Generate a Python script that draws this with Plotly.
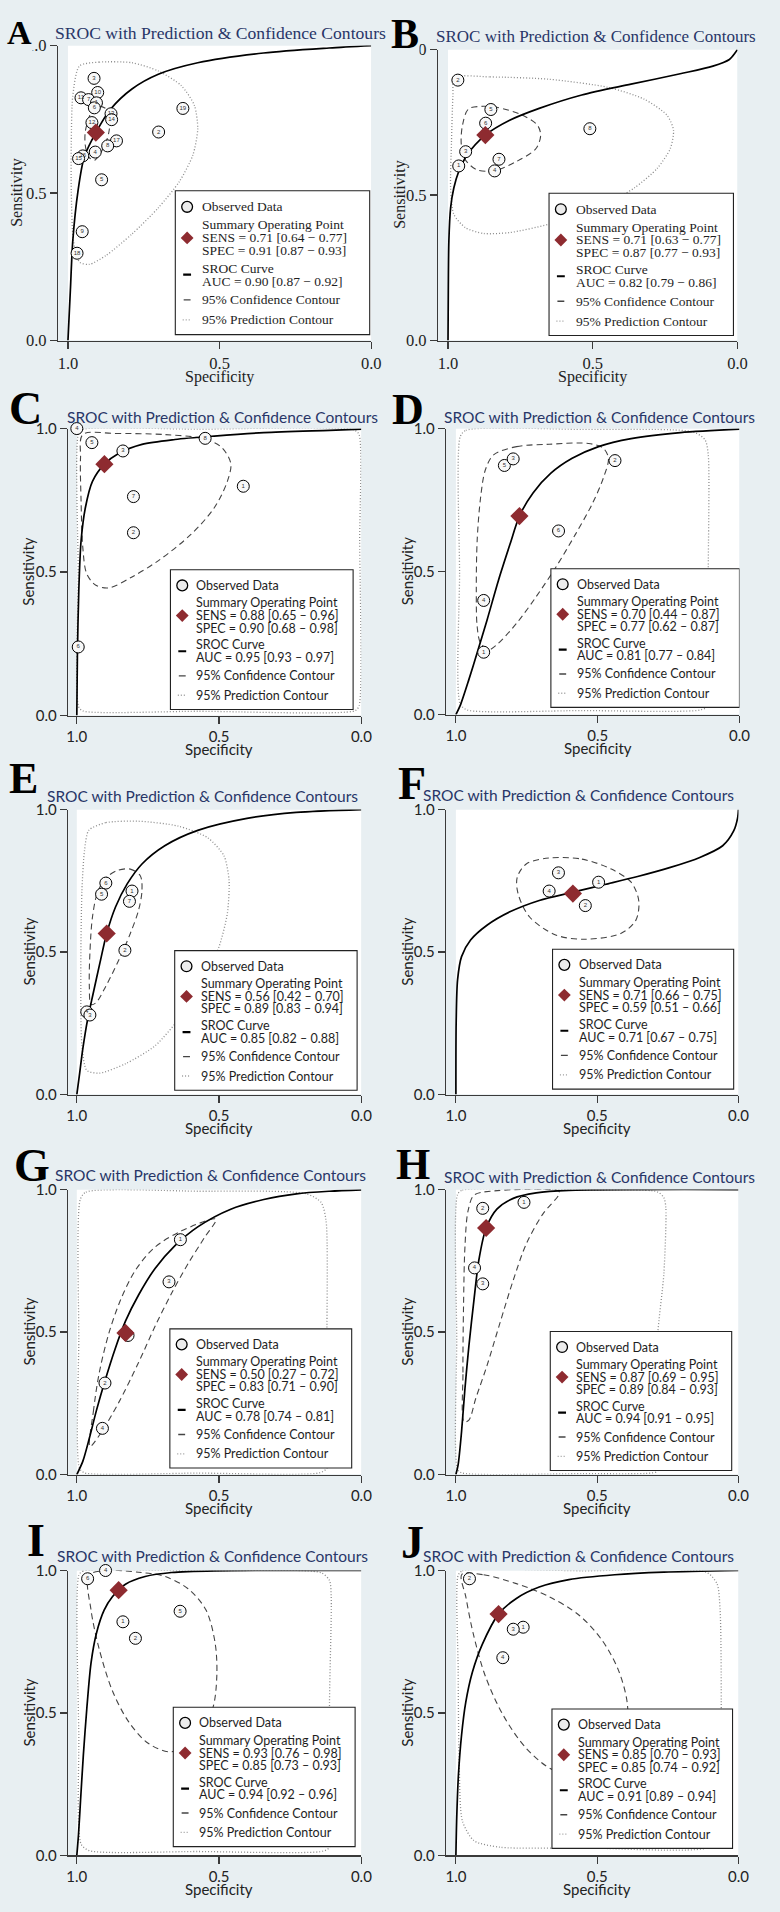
import plotly.graph_objects as go

W, H = 780, 1912
BG = '#e8eff2'
NAVY = '#283668'
RED = '#8e2b30'
AX = '#3a3a3a'
SERIF = 'Liberation Serif, Times New Roman, serif'
SANS = 'Lato, Open Sans, sans-serif'

# ---------------- data (specificity, sensitivity) ----------------
A_study_id = ['16', '3', '10', '11', '7', '1', '6', '13', '14', '12', '19', '2', '17', '8', '4', '15', '5', '9', '18']
A_study_spec = [0.951, 0.914, 0.902, 0.957, 0.932, 0.906, 0.913, 0.858, 0.856, 0.921, 0.621, 0.701, 0.840, 0.869, 0.910, 0.965, 0.889, 0.953, 0.970]
A_study_sens = [0.626, 0.889, 0.841, 0.823, 0.817, 0.806, 0.789, 0.769, 0.749, 0.739, 0.787, 0.707, 0.677, 0.660, 0.639, 0.617, 0.545, 0.369, 0.296]
A_summary = [0.908, 0.705]
A_sroc_spec = [1.0, 0.992, 0.984, 0.967, 0.946, 0.908, 0.859, 0.789, 0.702, 0.572, 0.355, 0.139, 0.0]
A_sroc_sens = [0.0, 0.171, 0.339, 0.506, 0.623, 0.705, 0.785, 0.853, 0.903, 0.942, 0.975, 0.992, 1.0]
A_conf_spec = [0.897, 0.873, 0.862, 0.865, 0.878, 0.897, 0.913, 0.932, 0.943, 0.943, 0.932, 0.917, 0.897]
A_conf_sens = [0.794, 0.785, 0.752, 0.707, 0.663, 0.629, 0.611, 0.623, 0.663, 0.707, 0.752, 0.785, 0.794]
A_pred_spec = [0.962, 0.897, 0.789, 0.702, 0.626, 0.583, 0.572, 0.588, 0.632, 0.702, 0.789, 0.875, 0.930, 0.962, 0.982, 0.989, 0.989, 0.984, 0.962]
A_pred_sens = [0.931, 0.944, 0.942, 0.914, 0.864, 0.797, 0.718, 0.629, 0.540, 0.450, 0.361, 0.288, 0.258, 0.266, 0.339, 0.506, 0.674, 0.830, 0.931]
A_stats = ['SENS = 0.71 [0.64 − 0.77]', 'SPEC = 0.91 [0.87 − 0.93]', 'AUC = 0.90 [0.87 − 0.92]']

B_study_id = ['2', '5', '6', '8', '3', '1', '7', '4']
B_study_spec = [0.966, 0.852, 0.870, 0.510, 0.939, 0.963, 0.824, 0.839]
B_study_sens = [0.895, 0.794, 0.747, 0.728, 0.649, 0.600, 0.623, 0.583]
B_summary = [0.871, 0.706]
B_sroc_spec = [1.0, 0.999, 0.997, 0.991, 0.980, 0.963, 0.934, 0.871, 0.787, 0.685, 0.538, 0.368, 0.198, 0.085, 0.028, 0.008, 0.0]
B_sroc_sens = [0.0, 0.173, 0.343, 0.456, 0.524, 0.581, 0.638, 0.706, 0.757, 0.798, 0.844, 0.881, 0.917, 0.943, 0.966, 0.989, 1.0]
B_conf_spec = [0.929, 0.878, 0.832, 0.742, 0.691, 0.680, 0.696, 0.764, 0.844, 0.900, 0.940, 0.954, 0.950, 0.929]
B_conf_sens = [0.796, 0.805, 0.802, 0.774, 0.740, 0.706, 0.660, 0.615, 0.583, 0.587, 0.621, 0.672, 0.740, 0.796]
B_pred_spec = [0.977, 0.855, 0.651, 0.447, 0.323, 0.243, 0.221, 0.232, 0.277, 0.357, 0.481, 0.651, 0.787, 0.878, 0.940, 0.980, 0.991, 0.988, 0.983, 0.977]
B_pred_sens = [0.904, 0.906, 0.898, 0.870, 0.830, 0.774, 0.723, 0.660, 0.592, 0.524, 0.456, 0.400, 0.371, 0.368, 0.388, 0.434, 0.524, 0.683, 0.841, 0.904]
B_stats = ['SENS = 0.71 [0.63 − 0.77]', 'SPEC = 0.87 [0.77 − 0.93]', 'AUC = 0.82 [0.79 − 0.86]']

C_study_id = ['4', '5', '3', '8', '1', '7', '2', '6']
C_study_spec = [1.0, 0.947, 0.838, 0.549, 0.415, 0.801, 0.801, 0.995]
C_study_sens = [1.0, 0.951, 0.922, 0.966, 0.799, 0.763, 0.637, 0.239]
C_summary = [0.903, 0.876]
C_sroc_spec = [1.0, 0.998, 0.993, 0.985, 0.970, 0.945, 0.903, 0.852, 0.771, 0.655, 0.517, 0.343, 0.112, 0.0]
C_sroc_sens = [0.0, 0.207, 0.437, 0.609, 0.724, 0.816, 0.876, 0.914, 0.945, 0.962, 0.974, 0.986, 0.994, 0.998]
C_conf_spec = [0.979, 0.864, 0.690, 0.563, 0.494, 0.459, 0.471, 0.517, 0.598, 0.713, 0.806, 0.887, 0.933, 0.965, 0.979, 0.985, 0.987, 0.979]
C_conf_sens = [0.979, 0.983, 0.979, 0.966, 0.937, 0.879, 0.816, 0.724, 0.632, 0.540, 0.483, 0.445, 0.454, 0.494, 0.586, 0.747, 0.897, 0.979]
C_pred_spec = [0.994, 0.979, 0.575, 0.025, 0.008, 0.006, 0.008, 0.022, 0.575, 0.979, 0.994, 0.995, 0.994]
C_pred_sens = [0.983, 0.997, 0.998, 0.995, 0.979, 0.609, 0.034, 0.017, 0.015, 0.016, 0.031, 0.494, 0.983]
C_stats = ['SENS = 0.88 [0.65 – 0.96]', 'SPEC = 0.90 [0.68 – 0.98]', 'AUC = 0.95 [0.93 – 0.97]']

D_study_id = ['5', '3', '2', '6', '4', '1']
D_study_spec = [0.829, 0.798, 0.439, 0.638, 0.902, 0.902]
D_study_sens = [0.871, 0.894, 0.888, 0.642, 0.399, 0.218]
D_summary = [0.776, 0.694]
D_sroc_spec = [1.0, 0.985, 0.954, 0.925, 0.890, 0.850, 0.809, 0.776, 0.728, 0.665, 0.590, 0.497, 0.382, 0.208, 0.0]
D_sroc_sens = [0.0, 0.031, 0.123, 0.216, 0.331, 0.469, 0.596, 0.694, 0.775, 0.844, 0.896, 0.937, 0.965, 0.986, 0.998]
D_conf_spec = [0.867, 0.786, 0.671, 0.532, 0.480, 0.462, 0.480, 0.520, 0.578, 0.647, 0.717, 0.786, 0.855, 0.884, 0.913, 0.925, 0.928, 0.925, 0.913, 0.896, 0.867]
D_conf_sens = [0.908, 0.937, 0.945, 0.948, 0.931, 0.896, 0.827, 0.735, 0.631, 0.516, 0.412, 0.319, 0.245, 0.227, 0.250, 0.308, 0.435, 0.608, 0.758, 0.856, 0.908]
D_pred_spec = [0.985, 0.965, 0.555, 0.162, 0.121, 0.110, 0.110, 0.110, 0.139, 0.555, 0.960, 0.985, 0.987, 0.985]
D_pred_sens = [0.971, 0.994, 0.997, 0.988, 0.960, 0.908, 0.493, 0.031, 0.016, 0.014, 0.016, 0.037, 0.493, 0.971]
D_stats = ['SENS = 0.70 [0.44 – 0.87]', 'SPEC = 0.77 [0.62 – 0.87]', 'AUC = 0.81 [0.77 – 0.84]']

E_study_id = ['6', '5', '1', '7', '2', '4', '3']
E_study_spec = [0.898, 0.913, 0.806, 0.815, 0.831, 0.965, 0.954]
E_study_sens = [0.742, 0.703, 0.714, 0.678, 0.506, 0.290, 0.279]
E_summary = [0.895, 0.565]
E_sroc_spec = [1.0, 0.991, 0.979, 0.962, 0.942, 0.919, 0.895, 0.864, 0.823, 0.771, 0.691, 0.575, 0.402, 0.229, 0.0]
E_sroc_sens = [0.0, 0.067, 0.160, 0.264, 0.357, 0.461, 0.565, 0.658, 0.739, 0.809, 0.873, 0.927, 0.969, 0.990, 1.0]
E_conf_spec = [0.858, 0.812, 0.777, 0.771, 0.783, 0.812, 0.852, 0.898, 0.933, 0.950, 0.956, 0.954, 0.945, 0.927, 0.898, 0.858]
E_conf_sens = [0.786, 0.791, 0.768, 0.716, 0.647, 0.565, 0.473, 0.380, 0.322, 0.316, 0.380, 0.496, 0.623, 0.710, 0.760, 0.786]
E_pred_spec = [0.958, 0.898, 0.783, 0.644, 0.540, 0.483, 0.465, 0.471, 0.500, 0.552, 0.633, 0.725, 0.829, 0.921, 0.965, 0.982, 0.986, 0.982, 0.973, 0.958]
E_pred_sens = [0.927, 0.954, 0.959, 0.942, 0.901, 0.838, 0.751, 0.635, 0.519, 0.403, 0.276, 0.171, 0.108, 0.075, 0.085, 0.171, 0.426, 0.716, 0.855, 0.927]
E_stats = ['SENS = 0.56 [0.42 – 0.70]', 'SPEC = 0.89 [0.83 – 0.94]', 'AUC = 0.85 [0.82 – 0.88]']

F_study_id = ['3', '1', '4', '2']
F_study_spec = [0.637, 0.495, 0.670, 0.542]
F_study_sens = [0.778, 0.745, 0.714, 0.663]
F_summary = [0.586, 0.705]
F_sroc_spec = [1.0, 0.999, 0.994, 0.980, 0.948, 0.890, 0.809, 0.705, 0.586, 0.473, 0.357, 0.241, 0.137, 0.056, 0.017, 0.003, 0.0]
F_sroc_sens = [0.0, 0.253, 0.403, 0.484, 0.542, 0.594, 0.641, 0.681, 0.710, 0.737, 0.765, 0.797, 0.832, 0.873, 0.925, 0.971, 1.0]
F_conf_spec = [0.670, 0.554, 0.450, 0.380, 0.353, 0.363, 0.415, 0.542, 0.647, 0.739, 0.780, 0.783, 0.751, 0.670]
F_conf_sens = [0.830, 0.826, 0.791, 0.745, 0.681, 0.612, 0.566, 0.545, 0.560, 0.623, 0.705, 0.762, 0.809, 0.830]
F_pred_spec = []
F_pred_sens = []
F_stats = ['SENS = 0.71 [0.66 – 0.75]', 'SPEC = 0.59 [0.51 – 0.66]', 'AUC = 0.71 [0.67 – 0.75]']

G_study_id = ['1', '3', '5', '2', '4']
G_study_spec = [0.636, 0.676, 0.820, 0.901, 0.910]
G_study_sens = [0.824, 0.676, 0.488, 0.321, 0.162]
G_summary = [0.829, 0.497]
G_sroc_spec = [1.0, 0.979, 0.956, 0.931, 0.901, 0.866, 0.829, 0.783, 0.725, 0.655, 0.575, 0.459, 0.343, 0.228, 0.112, 0.0]
G_sroc_sens = [0.0, 0.046, 0.127, 0.225, 0.329, 0.439, 0.538, 0.630, 0.723, 0.803, 0.869, 0.931, 0.965, 0.985, 0.994, 0.999]
G_conf_spec = [0.954, 0.942, 0.921, 0.887, 0.846, 0.794, 0.725, 0.632, 0.511, 0.551, 0.609, 0.667, 0.725, 0.783, 0.852, 0.916, 0.954]
G_conf_sens = [0.098, 0.220, 0.358, 0.497, 0.613, 0.717, 0.798, 0.855, 0.896, 0.832, 0.740, 0.636, 0.520, 0.393, 0.254, 0.145, 0.098]
G_pred_spec = [0.988, 0.968, 0.575, 0.193, 0.141, 0.124, 0.121, 0.121, 0.147, 0.575, 0.973, 0.991, 0.993, 0.988]
G_pred_sens = [0.965, 0.991, 0.994, 0.985, 0.954, 0.890, 0.474, 0.023, 0.006, 0.005, 0.006, 0.023, 0.474, 0.965]
G_stats = ['SENS = 0.50 [0.27 – 0.72]', 'SPEC = 0.83 [0.71 – 0.90]', 'AUC = 0.78 [0.74 – 0.81]']

H_study_id = ['1', '2', '4', '3']
H_study_spec = [0.759, 0.905, 0.934, 0.905]
H_study_sens = [0.955, 0.934, 0.725, 0.669]
H_summary = [0.893, 0.865]
H_sroc_spec = [1.0, 0.992, 0.980, 0.968, 0.954, 0.936, 0.919, 0.893, 0.855, 0.797, 0.716, 0.600, 0.0]
H_sroc_sens = [0.0, 0.035, 0.150, 0.301, 0.451, 0.613, 0.751, 0.865, 0.931, 0.969, 0.988, 0.997, 1.0]
H_conf_spec = [0.971, 0.975, 0.973, 0.968, 0.957, 0.936, 0.878, 0.635, 0.637, 0.693, 0.751, 0.797, 0.844, 0.890, 0.930, 0.954, 0.971]
H_conf_sens = [0.185, 0.358, 0.590, 0.798, 0.925, 0.980, 0.994, 0.994, 0.980, 0.913, 0.809, 0.682, 0.532, 0.382, 0.266, 0.191, 0.185]
H_pred_spec = [0.994, 0.977, 0.554, 0.287, 0.264, 0.257, 0.264, 0.287, 0.287, 0.311, 0.554, 0.977, 0.994, 0.997, 0.994]
H_pred_sens = [0.983, 0.998, 0.998, 0.992, 0.971, 0.936, 0.705, 0.474, 0.012, 0.005, 0.003, 0.005, 0.017, 0.474, 0.983]
H_stats = ['SENS = 0.87 [0.69 – 0.95]', 'SPEC = 0.89 [0.84 – 0.93]', 'AUC = 0.94 [0.91 – 0.95]']

I_study_id = ['6', '4', '5', '1', '2']
I_study_spec = [0.962, 0.899, 0.637, 0.838, 0.794]
I_study_sens = [0.971, 1.0, 0.857, 0.820, 0.762]
I_summary = [0.853, 0.931]
I_sroc_spec = [1.0, 0.994, 0.987, 0.977, 0.965, 0.950, 0.931, 0.904, 0.875, 0.829, 0.760, 0.667, 0.517, 0.0]
I_sroc_sens = [0.0, 0.075, 0.191, 0.353, 0.514, 0.676, 0.780, 0.861, 0.908, 0.952, 0.979, 0.993, 0.999, 1.0]
I_conf_spec = [0.958, 0.898, 0.783, 0.690, 0.609, 0.546, 0.514, 0.508, 0.523, 0.575, 0.667, 0.748, 0.817, 0.875, 0.921, 0.950, 0.958]
I_conf_sens = [0.983, 1.0, 0.994, 0.979, 0.936, 0.861, 0.746, 0.630, 0.514, 0.422, 0.364, 0.393, 0.468, 0.578, 0.723, 0.861, 0.983]
I_pred_spec = [0.993, 0.979, 0.575, 0.141, 0.112, 0.106, 0.112, 0.112, 0.135, 0.575, 0.956, 0.985, 0.993, 0.993]
I_pred_sens = [0.983, 0.998, 0.998, 0.992, 0.965, 0.908, 0.538, 0.029, 0.015, 0.014, 0.017, 0.040, 0.422, 0.983]
I_stats = ['SENS = 0.93 [0.76 – 0.98]', 'SPEC = 0.85 [0.73 – 0.93]', 'AUC = 0.94 [0.92 – 0.96]']

J_study_id = ['2', '1', '3', '4']
J_study_spec = [0.952, 0.762, 0.797, 0.834]
J_study_sens = [0.971, 0.801, 0.794, 0.694]
J_summary = [0.849, 0.847]
J_sroc_spec = [1.0, 0.997, 0.991, 0.980, 0.965, 0.942, 0.907, 0.849, 0.786, 0.705, 0.600, 0.438, 0.264, 0.0]
J_sroc_sens = [0.0, 0.133, 0.283, 0.422, 0.538, 0.642, 0.740, 0.847, 0.902, 0.942, 0.968, 0.985, 0.994, 1.0]
J_conf_spec = [0.979, 0.902, 0.786, 0.670, 0.565, 0.484, 0.426, 0.394, 0.397, 0.450, 0.554, 0.658, 0.751, 0.832, 0.896, 0.939, 0.965, 0.979]
J_conf_sens = [0.986, 0.985, 0.954, 0.908, 0.844, 0.757, 0.653, 0.538, 0.422, 0.329, 0.283, 0.301, 0.376, 0.491, 0.630, 0.780, 0.908, 0.986]
J_pred_spec = [0.992, 0.977, 0.554, 0.114, 0.076, 0.065, 0.061, 0.067, 0.102, 0.554, 0.844, 0.936, 0.977, 0.988, 0.992, 0.992]
J_pred_sens = [0.983, 0.999, 0.999, 0.994, 0.954, 0.861, 0.538, 0.075, 0.029, 0.027, 0.029, 0.052, 0.121, 0.306, 0.653, 0.983]
J_stats = ['SENS = 0.85 [0.70 – 0.93]', 'SPEC = 0.85 [0.74 – 0.92]', 'AUC = 0.91 [0.89 – 0.94]']

TITLE = 'SROC with Prediction & Confidence Contours'
TICK_VALS = [0.0, 0.5, 1.0]
TICK_TEXT = ['0.0', '0.5', '1.0']

DATA = {
    'A': (A_study_id, A_study_spec, A_study_sens, A_summary, A_sroc_spec, A_sroc_sens, A_conf_spec, A_conf_sens, A_pred_spec, A_pred_sens, A_stats),
    'B': (B_study_id, B_study_spec, B_study_sens, B_summary, B_sroc_spec, B_sroc_sens, B_conf_spec, B_conf_sens, B_pred_spec, B_pred_sens, B_stats),
    'C': (C_study_id, C_study_spec, C_study_sens, C_summary, C_sroc_spec, C_sroc_sens, C_conf_spec, C_conf_sens, C_pred_spec, C_pred_sens, C_stats),
    'D': (D_study_id, D_study_spec, D_study_sens, D_summary, D_sroc_spec, D_sroc_sens, D_conf_spec, D_conf_sens, D_pred_spec, D_pred_sens, D_stats),
    'E': (E_study_id, E_study_spec, E_study_sens, E_summary, E_sroc_spec, E_sroc_sens, E_conf_spec, E_conf_sens, E_pred_spec, E_pred_sens, E_stats),
    'F': (F_study_id, F_study_spec, F_study_sens, F_summary, F_sroc_spec, F_sroc_sens, F_conf_spec, F_conf_sens, F_pred_spec, F_pred_sens, F_stats),
    'G': (G_study_id, G_study_spec, G_study_sens, G_summary, G_sroc_spec, G_sroc_sens, G_conf_spec, G_conf_sens, G_pred_spec, G_pred_sens, G_stats),
    'H': (H_study_id, H_study_spec, H_study_sens, H_summary, H_sroc_spec, H_sroc_sens, H_conf_spec, H_conf_sens, H_pred_spec, H_pred_sens, H_stats),
    'I': (I_study_id, I_study_spec, I_study_sens, I_summary, I_sroc_spec, I_sroc_sens, I_conf_spec, I_conf_sens, I_pred_spec, I_pred_sens, I_stats),
    'J': (J_study_id, J_study_spec, J_study_sens, J_summary, J_sroc_spec, J_sroc_sens, J_conf_spec, J_conf_sens, J_pred_spec, J_pred_sens, J_stats),
}

# ---------------- layout geometry (pixels) ----------------
# axL: y-axis line x, x1: spec=1 x, x0: spec=0 x, yT: sens=1 y, yB: sens=0 y
GEOM = {
    'A': dict(axL=58, x1=68, x0=376, yT=36, yB=334, serif=True, letter=(5, 23, 34), title=(53, 23, 17.6), senx=16),
    'B': dict(axL=444, x1=454, x0=748, yT=40, yB=334, serif=True, letter=(395, 24, 42), title=(440, 27, 17), senx=405),
    'C': dict(axL=68, x1=77, x0=366, yT=423, yB=713, serif=False, letter=(7, 403, 46), title=(65, 411, 15.5), senx=27),
    'D': dict(axL=452, x1=462, x0=750, yT=423, yB=712, serif=False, letter=(396, 404, 44), title=(448, 411, 15.5), senx=412),
    'E': dict(axL=68, x1=77, x0=366, yT=808, yB=1096, serif=False, letter=(7, 777, 44), title=(45, 794, 15.5), senx=28),
    'F': dict(axL=452, x1=462, x0=749, yT=808, yB=1096, serif=False, letter=(402, 782, 46), title=(427, 793, 15.5), senx=412),
    'G': dict(axL=68, x1=77, x0=366, yT=1192, yB=1480, serif=False, letter=(12, 1168, 46), title=(53, 1177, 15.5), senx=28),
    'H': dict(axL=452, x1=462, x0=749, yT=1192, yB=1480, serif=False, letter=(400, 1167, 44), title=(448, 1179, 15.5), senx=412),
    'I': dict(axL=68, x1=77, x0=366, yT=1577, yB=1865, serif=False, letter=(25, 1547, 46), title=(55, 1562, 15.5), senx=28),
    'J': dict(axL=452, x1=462, x0=749, yT=1577, yB=1865, serif=False, letter=(405, 1549, 46), title=(427, 1562, 15.5), senx=412),
}
# legend box in data units: (left spec, right spec, top sens, bottom sens)
LEGBOX = {
    'A': (0.646, 0.005, 0.508, 0.020), 'B': (0.651, 0.014, 0.506, 0.017),
    'C': (0.671, 0.029, 0.508, 0.021), 'D': (0.665, 0.0, 0.510, 0.025),
    'E': (0.656, 0.015, 0.505, 0.015), 'F': (0.658, 0.017, 0.510, 0.019),
    'G': (0.673, 0.034, 0.511, 0.023), 'H': (0.666, 0.024, 0.502, 0.014),
    'I': (0.661, 0.022, 0.520, 0.031), 'J': (0.660, 0.021, 0.514, 0.025),
}
LEG_FRAC = [0.112, 0.237, 0.328, 0.417, 0.538, 0.629, 0.759, 0.898]

fig = go.Figure()
layout = dict(width=W, height=H, margin=dict(l=0, r=0, t=0, b=0),
              paper_bgcolor=BG, plot_bgcolor='rgba(0,0,0,0)', showlegend=False)
shapes, annotations = [], []


def px(xp):
    return xp / W


def py(yp):
    return 1 - yp / H


for i, k in enumerate(GEOM):
    g = GEOM[k]
    sid, sspec, ssens, summ, rs, rn, cs, cn, ps, pn, stats = DATA[k]
    n = '' if i == 0 else str(i + 1)
    xa, ya = 'x' + n, 'y' + n
    fam = SERIF if g['serif'] else SANS
    tsz = 16.5 if g['serif'] else 15
    sx = g['x0'] - g['x1']
    sy = g['yB'] - g['yT']
    off = (g['x1'] - g['axL']) / sx
    common = dict(tickvals=TICK_VALS, ticktext=TICK_TEXT, ticks='outside', ticklen=7,
                  tickcolor=AX, tickwidth=1.2, showline=True, linecolor=AX, linewidth=1.3,
                  showgrid=False, zeroline=False, fixedrange=True,
                  tickfont=dict(family=fam, size=tsz, color='#222'))
    layout['xaxis' + n] = dict(domain=[px(g['axL']), px(g['x0'])], range=[1 + off, 0], anchor=ya, **common)
    layout['yaxis' + n] = dict(domain=[py(g['yB']), py(g['yT'])], range=[0, 1], anchor=xa, **common)

    # white plot region
    shapes.append(dict(type='rect', xref=xa, yref=ya, x0=1, x1=0, y0=0, y1=1,
                       fillcolor='white', line=dict(width=0), layer='below'))

    if ps:
        fig.add_trace(go.Scatter(x=ps, y=pn, mode='lines', xaxis=xa, yaxis=ya, cliponaxis=False,
                                 line=dict(color='#8c8c8c', width=1.3, dash='1px,2px', shape='spline', smoothing=0.7),
                                 hoverinfo='skip'))
    fig.add_trace(go.Scatter(x=cs, y=cn, mode='lines', xaxis=xa, yaxis=ya, cliponaxis=False,
                             line=dict(color='#444', width=1.1, dash='6px,4px', shape='spline', smoothing=0.9),
                             hoverinfo='skip'))
    fig.add_trace(go.Scatter(x=rs, y=rn, mode='lines', xaxis=xa, yaxis=ya, cliponaxis=False,
                             line=dict(color='black', width=1.7, shape='spline', smoothing=0.8),
                             hoverinfo='skip'))
    fig.add_trace(go.Scatter(x=sspec, y=ssens, mode='markers+text', text=sid, xaxis=xa, yaxis=ya,
                             cliponaxis=False, textposition='middle center',
                             textfont=dict(family='Liberation Sans', size=6, color='#333'),
                             marker=dict(symbol='circle', size=12, color='#f8f8f8',
                                         line=dict(color='black', width=1)),
                             hoverinfo='skip'))
    fig.add_trace(go.Scatter(x=[summ[0]], y=[summ[1]], mode='markers', xaxis=xa, yaxis=ya,
                             cliponaxis=False,
                             marker=dict(symbol='diamond', size=14, color=RED, line=dict(width=0)),
                             hoverinfo='skip'))

    # legend box
    L, R, T, B = LEGBOX[k]
    shapes.append(dict(type='rect', xref=xa, yref=ya, x0=L, x1=R, y0=B, y1=T,
                       fillcolor='white', line=dict(color='#222', width=1.1), layer='above'))
    hgt = T - B
    ys = [T - f * hgt for f in LEG_FRAC]
    cx = L - 12.0 / sx
    r = 5.5
    shapes.append(dict(type='circle', xref=xa, yref=ya, x0=cx + r / sx, x1=cx - r / sx,
                       y0=ys[0] - r / sy, y1=ys[0] + r / sy, fillcolor='#ececec',
                       line=dict(color='black', width=1.3), layer='above'))
    d = 6.5
    shapes.append(dict(type='path', xref=xa, yref=ya, layer='above', fillcolor=RED, line=dict(width=0),
                       path=f'M {cx},{ys[2] + d / sy} L {cx - d / sx},{ys[2]} L {cx},{ys[2] - d / sy} L {cx + d / sx},{ys[2]} Z'))
    ysroc = T - 0.583 * hgt
    shapes.append(dict(type='line', xref=xa, yref=ya, layer='above', x0=cx + 4 / sx, x1=cx - 4 / sx,
                       y0=ysroc, y1=ysroc, line=dict(color='black', width=2.2)))
    shapes.append(dict(type='line', xref=xa, yref=ya, layer='above', x0=cx + 3.5 / sx, x1=cx - 3.5 / sx,
                       y0=ys[6], y1=ys[6], line=dict(color='#444', width=1.4)))
    shapes.append(dict(type='line', xref=xa, yref=ya, layer='above', x0=cx + 4.5 / sx, x1=cx - 4.5 / sx,
                       y0=ys[7], y1=ys[7], line=dict(color='#999', width=1.3, dash='1px,2px')))
    texts = ['Observed Data', 'Summary Operating Point', stats[0], stats[1], 'SROC Curve', stats[2],
             '95% Confidence Contour', '95% Prediction Contour']
    lsz = 13.5 if g['serif'] else 12.5
    for t, yv in zip(texts, ys):
        annotations.append(dict(xref=xa, yref=ya, x=L, y=yv, xshift=24 if not g['serif'] else 25,
                                xanchor='left', yanchor='middle', text=t, showarrow=False,
                                font=dict(family=fam, size=lsz, color='#1e1e1e')))

    # panel letter and title
    lx, lyc, lsz2 = g['letter']
    tx, tyc, tsz2 = g['title']
    annotations.append(dict(xref='paper', yref='paper', x=px(tx), y=py(tyc), xanchor='left', yanchor='middle',
                            text=TITLE, showarrow=False, font=dict(family=fam, size=tsz2, color=NAVY)))
    annotations.append(dict(xref='paper', yref='paper', x=px(lx), y=py(lyc), xanchor='left', yanchor='middle',
                            text='<b>' + k + '</b>', showarrow=False, borderpad=0,
                            bgcolor=BG if g['serif'] else 'rgba(0,0,0,0)',
                            font=dict(family=SERIF, size=lsz2, color='black')))
    # axis titles
    asz = 16 if g['serif'] else 15
    spy = g['yB'] + (37 if g['serif'] else 34)
    annotations.append(dict(xref='paper', yref='paper', x=px((g['x1'] + g['x0']) / 2), y=py(spy),
                            xanchor='center', yanchor='middle', text='Specificity', showarrow=False,
                            font=dict(family=fam, size=asz, color='#222')))
    annotations.append(dict(xref='paper', yref='paper', x=px(g['senx']), y=py((g['yT'] + g['yB']) / 2),
                            xanchor='center', yanchor='middle', text='Sensitivity', textangle=-90,
                            showarrow=False, font=dict(family=fam, size=asz, color='#222')))

layout['shapes'] = shapes
layout['annotations'] = annotations
fig.update_layout(**layout)
fig.write_html('out.html', config={'displayModeBar': False, 'staticPlot': True},
               post_script="document.body.style.margin='0px';document.body.style.overflow='hidden';")
